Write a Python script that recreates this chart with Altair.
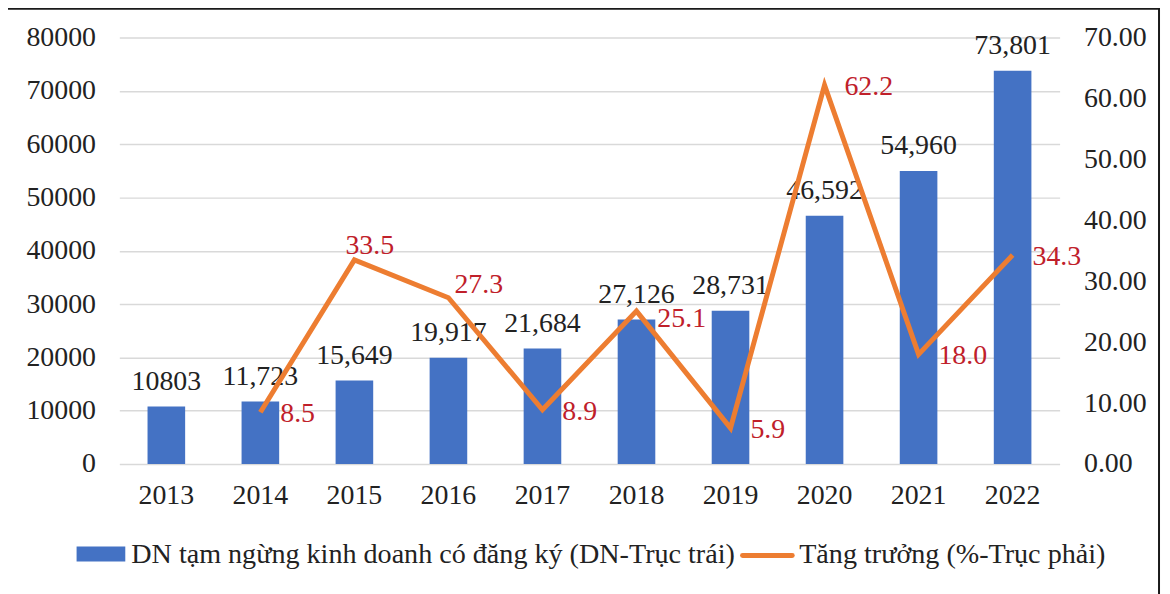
import altair as alt
import pandas as pd

years = ["2013", "2014", "2015", "2016", "2017", "2018", "2019", "2020", "2021", "2022"]
counts = [10803, 11723, 15649, 19917, 21684, 27126, 28731, 46592, 54960, 73801]
count_labels = ["10803", "11,723", "15,649", "19,917", "21,684", "27,126", "28,731", "46,592", "54,960", "73,801"]
growth = [None, 8.5, 33.5, 27.3, 8.9, 25.1, 5.9, 62.2, 18.0, 34.3]
growth_labels = ["", "8.5", "33.5", "27.3", "8.9", "25.1", "5.9", "62.2", "18.0", "34.3"]

left_ticks = [0, 10000, 20000, 30000, 40000, 50000, 60000, 70000, 80000]
right_ticks = [0, 10, 20, 30, 40, 50, 60, 70]

legend_bar = "DN tạm ngừng kinh doanh có đăng ký (DN-Trục trái)"
legend_line = "Tăng trưởng (%-Trục phải)"

BLUE = "#4472C4"
ORANGE = "#ED7D31"
RED = "#C0202A"
TXT = "#222222"
FONT = "Liberation Serif"
FS = 28

df = pd.DataFrame({
    "year": years,
    "count": counts,
    "count_label": count_labels,
    "growth": growth,
    "growth_label": growth_labels,
})
one = pd.DataFrame({"k": [0]})

x_enc = alt.X(
    "year:N",
    sort=years,
    scale=alt.Scale(paddingInner=0.6, paddingOuter=0.3),
    axis=alt.Axis(title=None, labelAngle=0, labelFontSize=FS, labelPadding=18,
                  ticks=False, domain=False, grid=False),
)

y_left = alt.Y(
    "count:Q",
    scale=alt.Scale(domain=[0, 80000], nice=False),
    axis=alt.Axis(title=None, orient="left", values=left_ticks, format="d",
                  ticks=False, domain=False, labelPadding=24, labelFontSize=FS,
                  grid=True, gridColor="#d9d9d9", gridWidth=1.5),
)

y_right = alt.Y(
    "growth:Q",
    scale=alt.Scale(domain=[0, 70], nice=False),
    axis=alt.Axis(title=None, orient="right", values=right_ticks, format=".2f",
                  ticks=False, domain=False, labelPadding=24, labelFontSize=FS,
                  grid=False),
)

base = alt.Chart(df)

bars = base.mark_bar(color=BLUE).encode(x=x_enc, y=y_left)
bar_text = base.mark_text(baseline="alphabetic", dy=-17, fontSize=FS, color=TXT).encode(
    x=x_enc, y=y_left, text="count_label:N")

left_layer = alt.layer(bars, bar_text)

line = base.mark_line(color=ORANGE, strokeWidth=5).encode(x=x_enc, y=y_right)

gt_main = base.transform_filter(
    alt.FieldOneOfPredicate(field="year", oneOf=["2014", "2017", "2019", "2020", "2021", "2022"])
).mark_text(align="left", baseline="middle", dx=20, dy=2, fontSize=FS, color=RED).encode(
    x=x_enc, y=y_right, text="growth_label:N")

gt_2018 = base.transform_filter(alt.FieldEqualPredicate(field="year", equal="2018")).mark_text(
    align="left", baseline="middle", dx=21, dy=8, fontSize=FS, color=RED).encode(
    x=x_enc, y=y_right, text="growth_label:N")

gt_2015 = base.transform_filter(alt.FieldEqualPredicate(field="year", equal="2015")).mark_text(
    align="left", baseline="middle", dx=-9, dy=-14, fontSize=FS, color=RED).encode(
    x=x_enc, y=y_right, text="growth_label:N")

gt_2016 = base.transform_filter(alt.FieldEqualPredicate(field="year", equal="2016")).mark_text(
    align="left", baseline="middle", dx=6, dy=-13, fontSize=FS, color=RED).encode(
    x=x_enc, y=y_right, text="growth_label:N")

right_layer = alt.layer(line, gt_main, gt_2018, gt_2015, gt_2016)

o = alt.Chart(one)
border = o.mark_rect(fillOpacity=0, stroke="#1a1a1a", strokeWidth=2, clip=False).encode(
    x=alt.value(-113), x2=alt.value(1046), y=alt.value(-29), y2=alt.value(640))

leg_rect = o.mark_rect(color=BLUE).encode(
    x=alt.value(-43), x2=alt.value(6), y=alt.value(512), y2=alt.value(527))
leg_text1 = o.mark_text(text=legend_bar, align="left", baseline="middle", fontSize=28.3,
                        color=TXT).encode(x=alt.value(12), y=alt.value(521))
leg_line = o.mark_rule(color=ORANGE, strokeWidth=5, strokeCap="round").encode(
    x=alt.value(627), x2=alt.value(677), y=alt.value(521))
leg_text2 = o.mark_text(text=legend_line, align="left", baseline="middle", fontSize=28.3,
                        color=TXT).encode(x=alt.value(684), y=alt.value(521))

chart = alt.layer(
    left_layer, right_layer, border, leg_rect, leg_text1, leg_line, leg_text2
).resolve_scale(y="independent").properties(
    width=946, height=429,
    autosize=alt.AutoSizeParams(type="none"),
    padding={"left": 112, "top": 28, "right": 103, "bottom": 129},
    background="white",
).configure_view(stroke=None).configure_axis(
    labelFont=FONT, labelColor=TXT
).configure_text(font=FONT)

chart.save("out.html", embed_options={"renderer": "svg", "actions": False})
